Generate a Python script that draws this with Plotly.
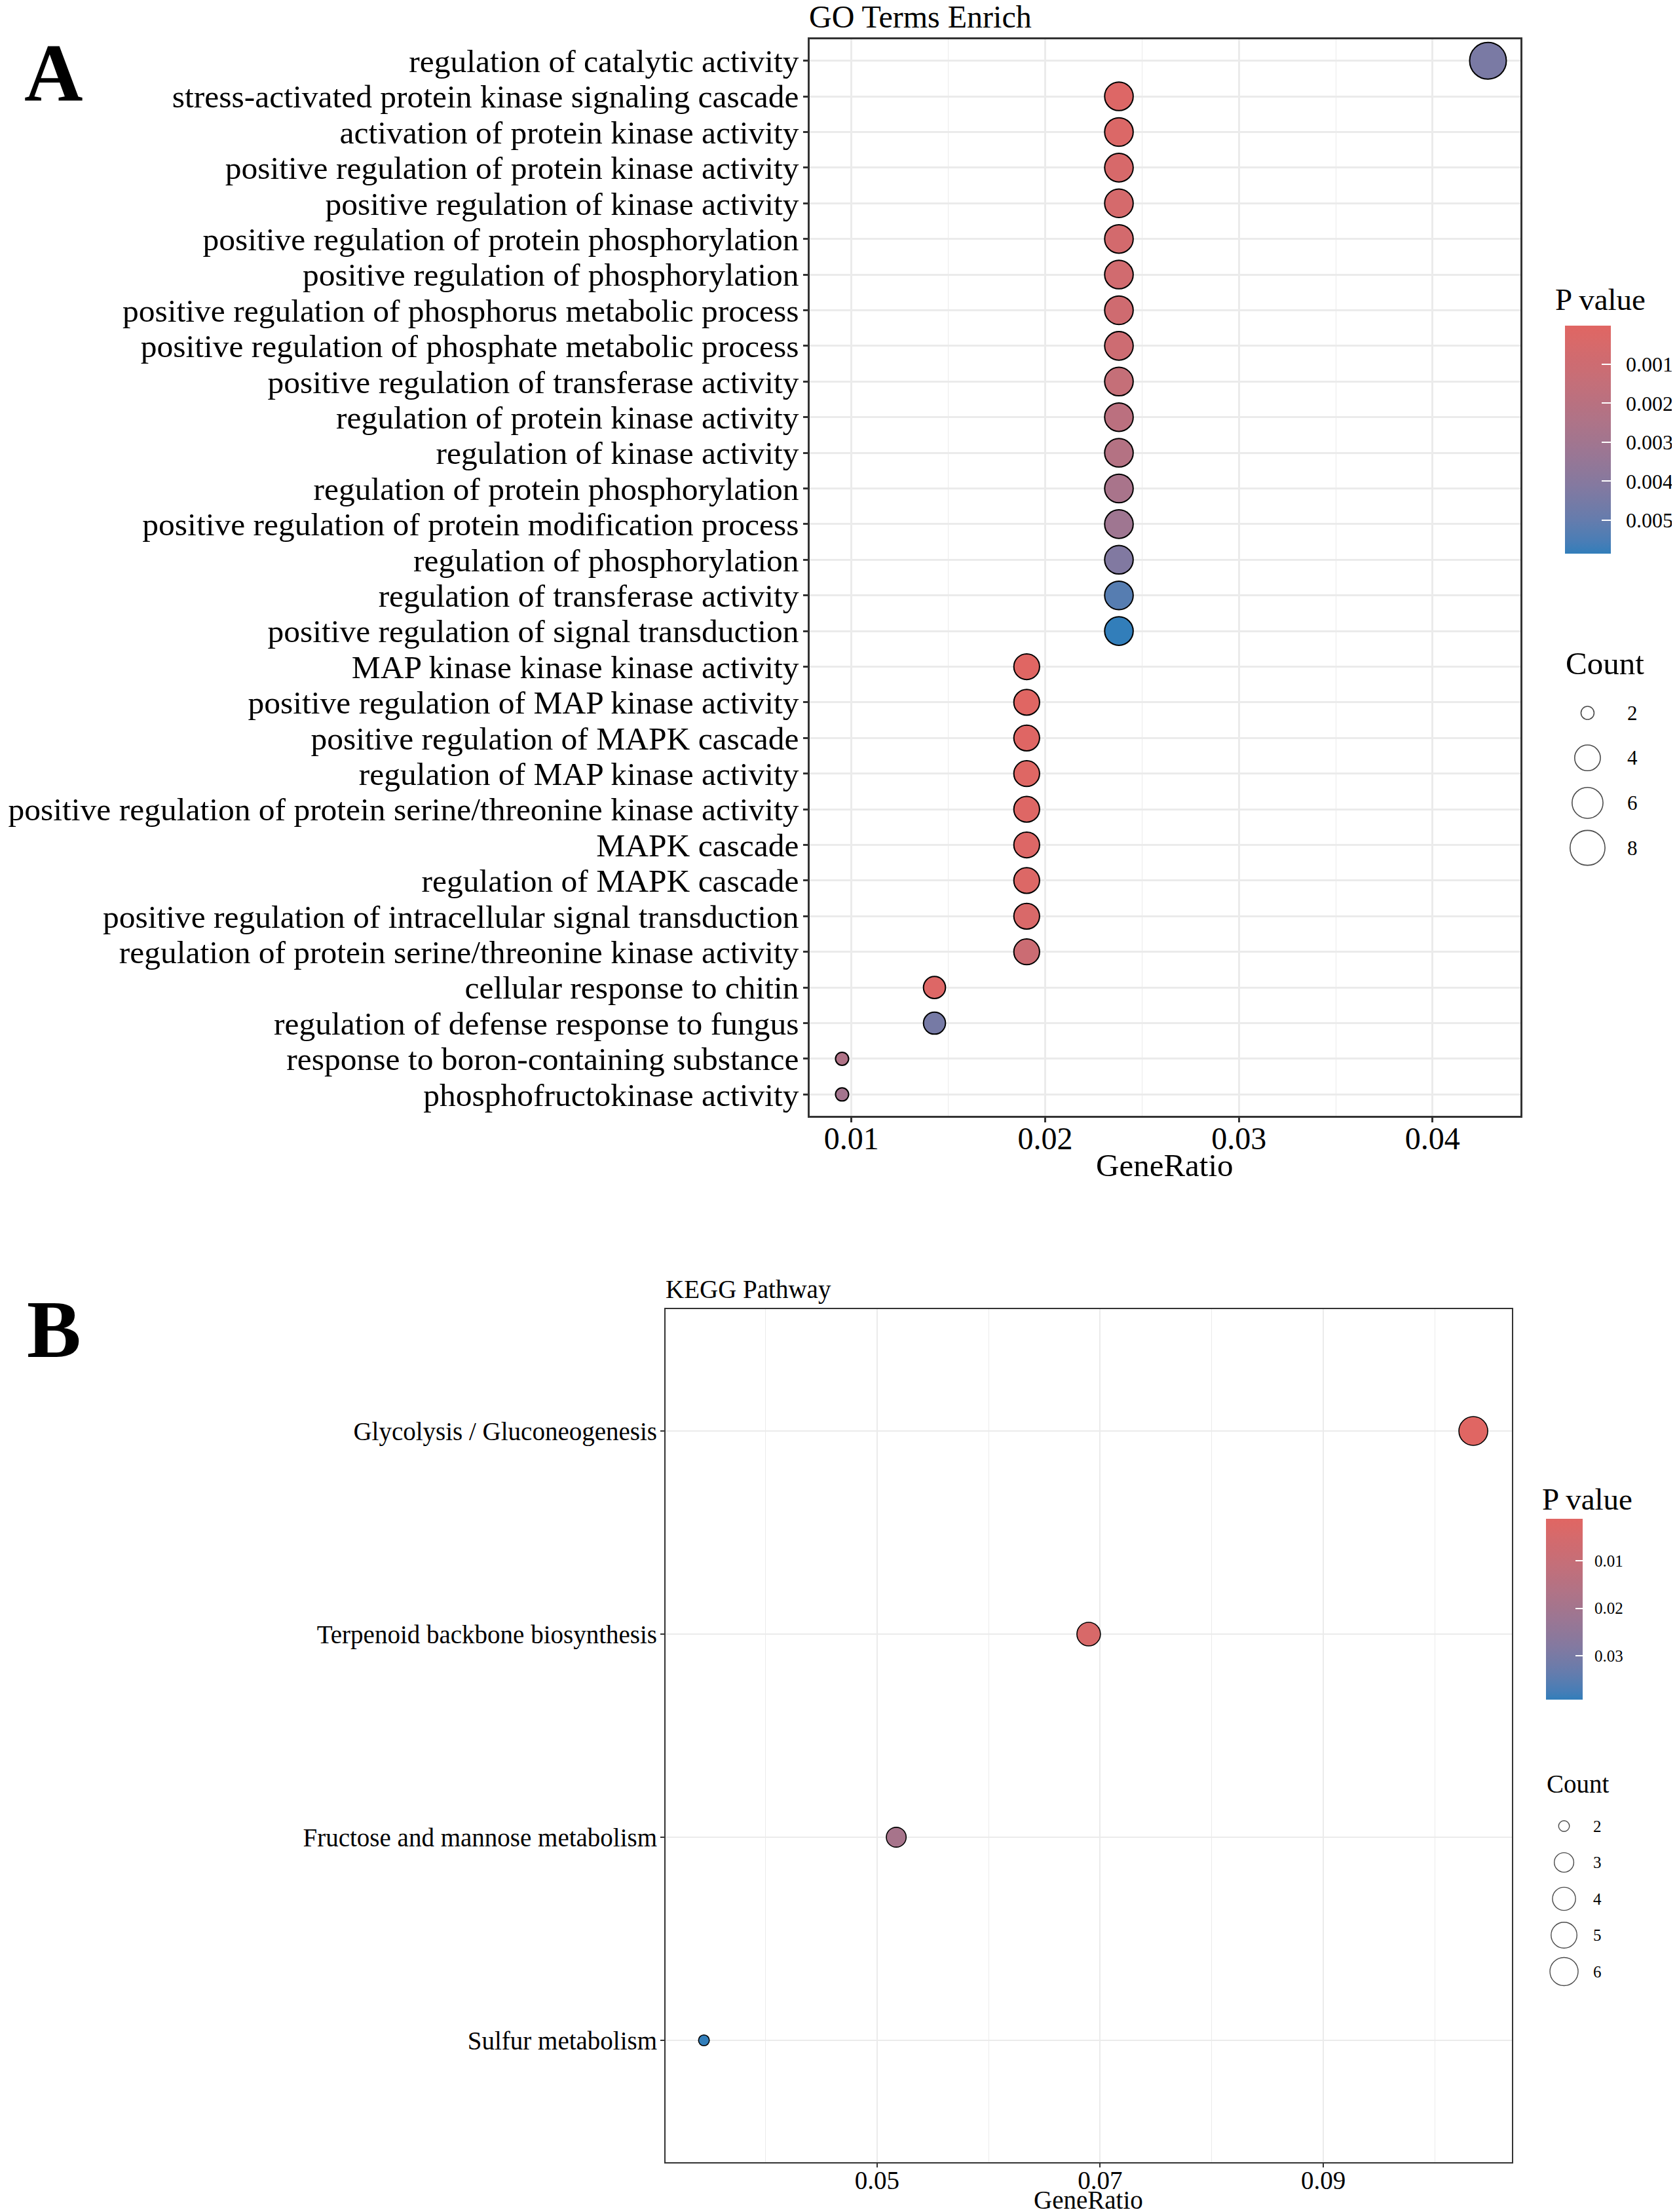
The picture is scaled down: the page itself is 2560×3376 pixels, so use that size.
import numpy as np
import plotly.graph_objects as go

W, H = 2560, 3376
OFF_Y = 8        # browser default body margin (vertical)
FH = H - OFF_Y
FONT = "Liberation Serif, Times New Roman, serif"

# ---------------- data: GO terms (panel A), top to bottom ----------------
go_terms = [
    "regulation of catalytic activity",
    "stress-activated protein kinase signaling cascade",
    "activation of protein kinase activity",
    "positive regulation of protein kinase activity",
    "positive regulation of kinase activity",
    "positive regulation of protein phosphorylation",
    "positive regulation of phosphorylation",
    "positive regulation of phosphorus metabolic process",
    "positive regulation of phosphate metabolic process",
    "positive regulation of transferase activity",
    "regulation of protein kinase activity",
    "regulation of kinase activity",
    "regulation of protein phosphorylation",
    "positive regulation of protein modification process",
    "regulation of phosphorylation",
    "regulation of transferase activity",
    "positive regulation of signal transduction",
    "MAP kinase kinase kinase activity",
    "positive regulation of MAP kinase activity",
    "positive regulation of MAPK cascade",
    "regulation of MAP kinase activity",
    "positive regulation of protein serine/threonine kinase activity",
    "MAPK cascade",
    "regulation of MAPK cascade",
    "positive regulation of intracellular signal transduction",
    "regulation of protein serine/threonine kinase activity",
    "cellular response to chitin",
    "regulation of defense response to fungus",
    "response to boron-containing substance",
    "phosphofructokinase activity",
]
go_gene_ratio = [0.04286, 0.02381, 0.02381, 0.02381, 0.02381, 0.02381, 0.02381, 0.02381,
                 0.02381, 0.02381, 0.02381, 0.02381, 0.02381, 0.02381, 0.02381, 0.02381,
                 0.02381, 0.01905, 0.01905, 0.01905, 0.01905, 0.01905, 0.01905, 0.01905,
                 0.01905, 0.01905, 0.01429, 0.01429, 0.00952, 0.00952]
go_count = [9, 5, 5, 5, 5, 5, 5, 5, 5, 5, 5, 5, 5, 5, 5, 5, 5,
            4, 4, 4, 4, 4, 4, 4, 4, 4, 3, 3, 2, 2]
go_pvalue = [0.0044, 0.0002, 0.0003, 0.0005, 0.0006, 0.0007, 0.0008, 0.0009, 0.0010,
             0.0014, 0.0019, 0.0022, 0.0027, 0.0031, 0.0042, 0.0053, 0.00586,
             0.00001, 0.00003, 0.00006, 0.0001, 0.00015, 0.0002, 0.00025, 0.0004,
             0.0011, 0.0002, 0.0045, 0.0024, 0.0029]
go_pvalue_ticks = [0.001, 0.002, 0.003, 0.004, 0.005]
go_count_breaks = [2, 4, 6, 8]
go_xticks = [0.01, 0.02, 0.03, 0.04]

# ---------------- data: KEGG pathways (panel B), top to bottom ----------------
kegg_terms = [
    "Glycolysis / Gluconeogenesis",
    "Terpenoid backbone biosynthesis",
    "Fructose and mannose metabolism",
    "Sulfur metabolism",
]
kegg_gene_ratio = [0.10345, 0.06897, 0.05172, 0.03448]
kegg_count = [6, 4, 3, 2]
kegg_pvalue = [0.0012, 0.0040, 0.0190, 0.0392]
kegg_pvalue_ticks = [0.01, 0.02, 0.03]
kegg_count_breaks = [2, 3, 4, 5, 6]
kegg_xticks = [0.05, 0.07, 0.09]

# ---------------- helpers ----------------
LOW_COL = (224, 102, 99)    # low p  -> red
HIGH_COL = (50, 126, 186)   # high p -> blue


def _lin(c):
    c = c / 255.0
    return c / 12.92 if c <= 0.04045 else ((c + 0.055) / 1.055) ** 2.4


def _delin(c):
    c = 12.92 * c if c <= 0.0031308 else 1.055 * c ** (1 / 2.4) - 0.055
    return int(round(min(max(c, 0), 1) * 255))


WHITE = (0.95047, 1.0, 1.08883)


def _f(t):
    return t ** (1 / 3) if t > (6 / 29) ** 3 else t / (3 * (6 / 29) ** 2) + 4 / 29


def _finv(t):
    return t ** 3 if t > 6 / 29 else 3 * (6 / 29) ** 2 * (t - 4 / 29)


def rgb2lab(rgb):
    r, g, b = [_lin(v) for v in rgb]
    X = 0.4124 * r + 0.3576 * g + 0.1805 * b
    Y = 0.2126 * r + 0.7152 * g + 0.0722 * b
    Z = 0.0193 * r + 0.1192 * g + 0.9505 * b
    fx, fy, fz = _f(X / WHITE[0]), _f(Y / WHITE[1]), _f(Z / WHITE[2])
    return (116 * fy - 16, 500 * (fx - fy), 200 * (fy - fz))


def lab2rgb(lab):
    L, a, b = lab
    fy = (L + 16) / 116
    fx = fy + a / 500
    fz = fy - b / 200
    X, Y, Z = WHITE[0] * _finv(fx), WHITE[1] * _finv(fy), WHITE[2] * _finv(fz)
    r = 3.2406 * X - 1.5372 * Y - 0.4986 * Z
    g = -0.9689 * X + 1.8758 * Y + 0.0415 * Z
    bb = 0.0557 * X - 0.2040 * Y + 1.0570 * Z
    return (_delin(r), _delin(g), _delin(bb))


def lab_scale(n=21):
    # colour axis uses -p so that small p (red) sits at the top of the bar
    lo, hi = rgb2lab(HIGH_COL), rgb2lab(LOW_COL)
    out = []
    for i in range(n):
        s = i / (n - 1)
        c = lab2rgb(tuple(lo[k] + (hi[k] - lo[k]) * s for k in range(3)))
        out.append([s, "rgb(%d,%d,%d)" % c])
    return out


CSCALE = lab_scale()


def size_px(counts, cmin, cmax, dmin, dmax):
    c = np.asarray(counts, dtype=float)
    return dmin + (dmax - dmin) * np.sqrt((c - cmin) / (cmax - cmin))


def expand(vals, f=0.05):
    lo, hi = min(vals), max(vals)
    sp = hi - lo
    return [lo - f * sp, hi + f * sp]


def px(x):
    return x / W


def py(y):
    return 1 - (y - OFF_Y) / FH


fig = go.Figure()

# ---------------- panel A ----------------
a_cmin, a_cmax = min(go_count), max(go_count)
fig.add_trace(go.Scatter(
    x=go_gene_ratio, y=go_terms, mode="markers", xaxis="x", yaxis="y",
    showlegend=False, hoverinfo="x+y",
    marker=dict(
        size=size_px(go_count, a_cmin, a_cmax, 20, 56),
        color=[-p for p in go_pvalue], colorscale=CSCALE,
        cmin=-max(go_pvalue), cmax=-min(go_pvalue),
        line=dict(color="black", width=2), opacity=1,
        colorbar=dict(
            x=px(2388), xanchor="left", xpad=0, y=py(497), yanchor="top", ypad=0,
            len=348, lenmode="pixels", thickness=70, thicknessmode="pixels",
            outlinewidth=0, tickvals=[-v for v in go_pvalue_ticks],
            ticktext=["\u2002" + f"{v:.3f}" for v in go_pvalue_ticks],
            ticks="inside", ticklen=14, tickwidth=2, tickcolor="white",
            tickfont=dict(family=FONT, size=32, color="black"),
        ),
    ),
))

# size legend A
fig.add_trace(go.Scatter(
    x=[0] * len(go_count_breaks), y=go_count_breaks, mode="markers",
    xaxis="x3", yaxis="y3", showlegend=False, hoverinfo="skip", cliponaxis=False,
    marker=dict(size=size_px(go_count_breaks, a_cmin, a_cmax, 20, 56),
                color="rgba(255,255,255,0)", line=dict(color="black", width=1.6)),
))

# ---------------- panel B ----------------
b_cmin, b_cmax = min(kegg_count), max(kegg_count)
fig.add_trace(go.Scatter(
    x=kegg_gene_ratio, y=kegg_terms, mode="markers", xaxis="x2", yaxis="y2",
    showlegend=False, hoverinfo="x+y",
    marker=dict(
        size=size_px(kegg_count, b_cmin, b_cmax, 16.5, 44),
        color=[-p for p in kegg_pvalue], colorscale=CSCALE,
        cmin=-max(kegg_pvalue), cmax=-min(kegg_pvalue),
        line=dict(color="black", width=1.6), opacity=1,
        colorbar=dict(
            x=px(2359), xanchor="left", xpad=0, y=py(2318), yanchor="top", ypad=0,
            len=276, lenmode="pixels", thickness=56, thicknessmode="pixels",
            outlinewidth=0, tickvals=[-v for v in kegg_pvalue_ticks],
            ticktext=["\u2002" + f"{v:.2f}" for v in kegg_pvalue_ticks],
            ticks="inside", ticklen=11, tickwidth=2, tickcolor="white",
            tickfont=dict(family=FONT, size=25, color="black"),
        ),
    ),
))

# size legend B
fig.add_trace(go.Scatter(
    x=[0] * len(kegg_count_breaks), y=kegg_count_breaks, mode="markers",
    xaxis="x4", yaxis="y4", showlegend=False, hoverinfo="skip", cliponaxis=False,
    marker=dict(size=size_px(kegg_count_breaks, b_cmin, b_cmax, 16.5, 43),
                color="rgba(255,255,255,0)", line=dict(color="black", width=1.4)),
))

GRID = "#EBEBEB"
LINE = "#333333"

common_x = dict(showgrid=True, gridcolor=GRID, zeroline=False, showline=True, mirror=True,
                linecolor=LINE, ticks="outside", tickcolor=LINE, automargin=False)

fig.update_layout(
    width=W, height=FH, template="none",
    margin=dict(l=0, r=0, t=0, b=0),
    paper_bgcolor="white", plot_bgcolor="white",
    xaxis=dict(common_x, domain=[px(1232), px(2320)], anchor="y",
               range=expand(go_gene_ratio), tickmode="array", tickvals=go_xticks,
               ticktext=[f"{v:.2f}" for v in go_xticks],
               gridwidth=2.5, linewidth=2.5, ticklen=7, tickwidth=2.5,
               ticklabelstandoff=-16,
               tickfont=dict(family=FONT, size=48, color="black"),
               minor=dict(dtick=0.005, tick0=0, showgrid=True, gridcolor=GRID, gridwidth=1.3, ticks="")),
    yaxis=dict(common_x, domain=[py(1703), py(60)], anchor="x", type="category",
               categoryorder="array", categoryarray=go_terms,
               tickmode="array", tickvals=go_terms, ticktext=go_terms,
               range=[len(go_terms) - 0.4, -0.6],
               gridwidth=2.5, linewidth=2.5, ticklen=7, tickwidth=2.5,
               ticklabelstandoff=-3,
               tickfont=dict(family=FONT, size=49.5, color="black")),
    xaxis2=dict(common_x, domain=[px(1011), px(2307)], anchor="y2",
                range=expand(kegg_gene_ratio), tickmode="array", tickvals=kegg_xticks,
                ticktext=[f"{v:.2f}" for v in kegg_xticks],
                gridwidth=2, linewidth=2, ticklen=6, tickwidth=2,
                ticklabelstandoff=-14,
                tickfont=dict(family=FONT, size=39, color="black"),
                minor=dict(dtick=0.01, tick0=0, showgrid=True, gridcolor=GRID, gridwidth=1, ticks="")),
    yaxis2=dict(common_x, domain=[py(3300), py(1998)], anchor="x2", type="category",
                categoryorder="array", categoryarray=kegg_terms,
                tickmode="array", tickvals=kegg_terms, ticktext=kegg_terms,
                range=[len(kegg_terms) - 0.4, -0.6],
                gridwidth=2, linewidth=2, ticklen=6, tickwidth=2,
                ticklabelstandoff=-3,
                tickfont=dict(family=FONT, size=39, color="black")),
    xaxis3=dict(domain=[px(2413), px(2433)], range=[-1, 1], visible=False, anchor="y3"),
    yaxis3=dict(domain=[py(1053.7 + 8 * 34.33), py(1053.7)], range=[9, 1], visible=False, anchor="x3"),
    xaxis4=dict(domain=[px(2377), px(2397)], range=[-1, 1], visible=False, anchor="y4"),
    yaxis4=dict(domain=[py(2731.5 + 6 * 55.5), py(2731.5)], range=[7, 1], visible=False, anchor="x4"),
)

ann = []


def text(x, y, s, size, xanchor="left", bold=False, xref="paper", yref="paper"):
    ann.append(dict(x=x, y=y, xref=xref, yref=yref, text=("<b>%s</b>" % s) if bold else s,
                    showarrow=False, xanchor=xanchor, yanchor="middle",
                    font=dict(family=FONT, size=size, color="black")))


# panel letters and titles
text(px(27), py(112), "A", 124, bold=True)
text(px(31), py(2030), "B", 124, bold=True)
text(px(1229), py(25), "GO Terms Enrich", 48)
text(px(1009), py(1968), "KEGG Pathway", 39)
text(px(1776), py(1778), "GeneRatio", 49, xanchor="center")
text(px(1659), py(3357), "GeneRatio", 39, xanchor="center")
# legend titles
text(px(2371), py(457), "P value", 47)
text(px(2387), py(1012), "Count", 49)
text(px(2351), py(2288), "P value", 47)
text(px(2358), py(2722), "Count", 39)
# size legend labels
for c in go_count_breaks:
    text(px(2482), c, str(c), 31, yref="y3")
for c in kegg_count_breaks:
    text(px(2430), c, str(c), 25, yref="y4")

fig.update_layout(annotations=ann)
fig.write_html("out.html")
